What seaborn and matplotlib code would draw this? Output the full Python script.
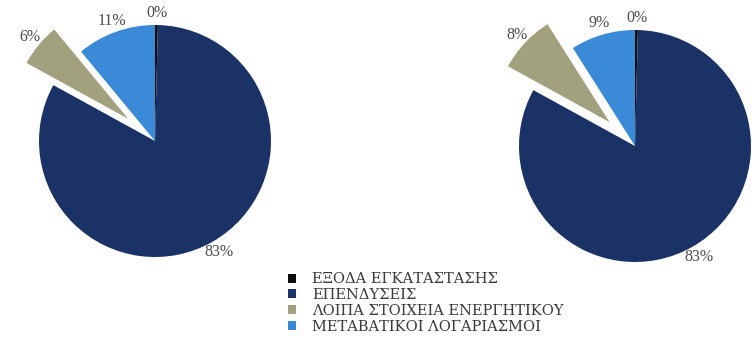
import matplotlib
matplotlib.use("Agg")
import matplotlib.pyplot as plt
from matplotlib.patches import Patch
import seaborn as sns

# Asset structure shares (%) for the two periods
categories = ["ΕΞΟΔΑ ΕΓΚΑΤΑΣΤΑΣΗΣ", "ΕΠΕΝΔΥΣΕΙΣ",
              "ΛΟΙΠΑ ΣΤΟΙΧΕΙΑ ΕΝΕΡΓΗΤΙΚΟΥ", "ΜΕΤΑΒΑΤΙΚΟΙ ΛΟΓΑΡΙΑΣΜΟΙ"]
shares_left = [0.4, 82.6, 6.0, 11.0]
shares_right = [0.4, 82.6, 8.0, 9.0]

sns.set_theme(style="white")
palette = sns.color_palette(["#0e0e0e", "#1a3266", "#a2a17e", "#3a8ad8"])
plt.rcParams["font.family"] = ["Liberation Serif", "DejaVu Serif"]

W, H = 752, 339
R = 116.0  # pie radius in pixels
fig = plt.figure(figsize=(W / 100, H / 100), dpi=100)


def pie_axes(x0, x1, cx, cy):
    """Axes spanning pixel columns x0..x1 with a unit circle of radius R px at (cx, cy)."""
    ax = fig.add_axes([x0 / W, 0, (x1 - x0) / W, 1])
    return ax, (-(cx - x0) / R, (x1 - cx) / R), (-(H - cy) / R, cy / R)


def draw_pie(ax, xlim, ylim, shares):
    ax.pie(
        shares, colors=palette, startangle=90, counterclock=False,
        explode=[0, 0, 0.3, 0], autopct="%.0f%%", pctdistance=1.1,
        wedgeprops=dict(linewidth=0),
        textprops=dict(color="#4d4d4d", fontsize=11.5),
    )
    ax.set_xlim(*xlim)
    ax.set_ylim(*ylim)
    ax.set_axis_off()


ax1, xl1, yl1 = pie_axes(0, 330, 155, 141)
draw_pie(ax1, xl1, yl1, shares_left)

ax2, xl2, yl2 = pie_axes(460, 752, 635, 146)
draw_pie(ax2, xl2, yl2, shares_right)

handles = [Patch(facecolor=c, edgecolor="none") for c in palette]
fig.legend(handles, categories, loc="upper left",
           bbox_to_anchor=(281 / W, 1 - 265 / H), frameon=False,
           prop=dict(family="DejaVu Serif", size=10.5),
           handlelength=0.55, handleheight=0.55,
           handletextpad=1.1, labelspacing=0.12, borderpad=0,
           labelcolor="#3a3a3a")

fig.savefig("out.png", dpi=100)
